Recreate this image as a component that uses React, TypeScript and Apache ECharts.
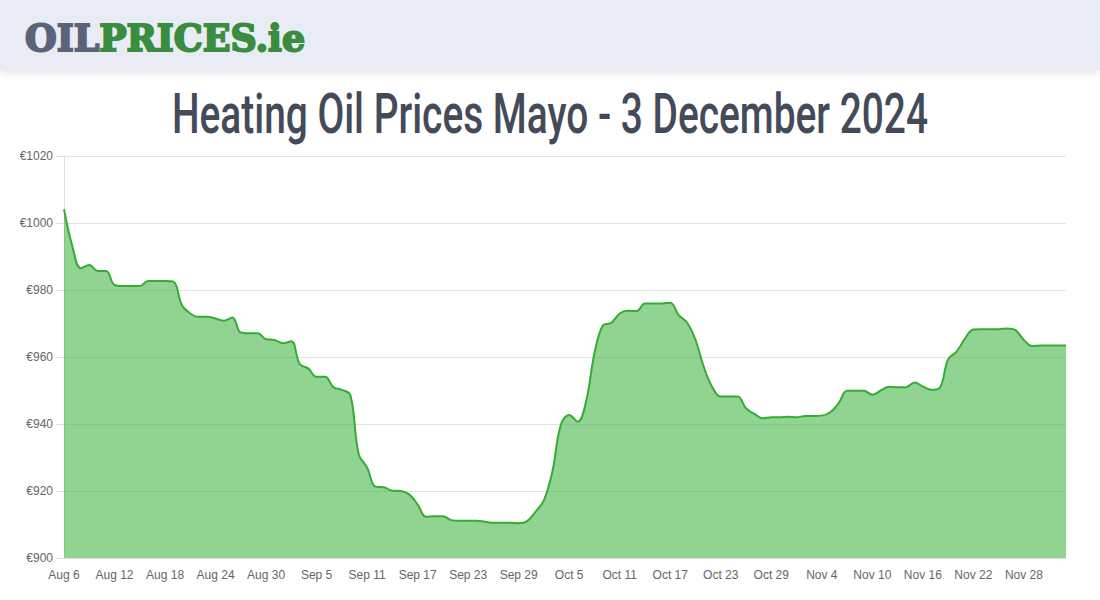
import React, { useEffect, useRef } from "react";
import * as echarts from "echarts";

const dates: string[] = [
  "Aug 6","Aug 7","Aug 8","Aug 9","Aug 10","Aug 11","Aug 12","Aug 13","Aug 14","Aug 15","Aug 16","Aug 17","Aug 18","Aug 19","Aug 20","Aug 21","Aug 22","Aug 23","Aug 24","Aug 25","Aug 26","Aug 27","Aug 28","Aug 29","Aug 30","Aug 31",
  "Sep 1","Sep 2","Sep 3","Sep 4","Sep 5","Sep 6","Sep 7","Sep 8","Sep 9","Sep 10","Sep 11","Sep 12","Sep 13","Sep 14","Sep 15","Sep 16","Sep 17","Sep 18","Sep 19","Sep 20","Sep 21","Sep 22","Sep 23","Sep 24","Sep 25","Sep 26","Sep 27","Sep 28","Sep 29","Sep 30",
  "Oct 1","Oct 2","Oct 3","Oct 4","Oct 5","Oct 6","Oct 7","Oct 8","Oct 9","Oct 10","Oct 11","Oct 12","Oct 13","Oct 14","Oct 15","Oct 16","Oct 17","Oct 18","Oct 19","Oct 20","Oct 21","Oct 22","Oct 23","Oct 24","Oct 25","Oct 26","Oct 27","Oct 28","Oct 29","Oct 30","Oct 31",
  "Nov 1","Nov 2","Nov 3","Nov 4","Nov 5","Nov 6","Nov 7","Nov 8","Nov 9","Nov 10","Nov 11","Nov 12","Nov 13","Nov 14","Nov 15","Nov 16","Nov 17","Nov 18","Nov 19","Nov 20","Nov 21","Nov 22","Nov 23","Nov 24","Nov 25","Nov 26","Nov 27","Nov 28","Nov 29","Nov 30",
  "Dec 1","Dec 2","Dec 3",
];

const prices: number[] = [
  1004.1, 993, 986.5, 987.5, 985.7, 985.7, 981.5, 981.2, 981.2, 981.2,
  982.7, 982.7, 982.7, 982.5, 975.5, 973, 972, 972, 971.5, 970.8,
  971.8, 967.3, 967.1, 967.1, 965.3, 965.1, 964.1, 964.7, 957.9, 956.6,
  954.1, 954.1, 951, 950.2, 948.7, 931, 927, 921.3, 921.1, 920.1,
  920, 919, 916, 912.3, 912.5, 912.5, 911.3, 911.1, 911.1, 911.1,
  910.8, 910.5, 910.5, 910.5, 910.4, 911, 913.8, 917.3, 925.8, 939.7,
  942.7, 940.7, 946.7, 961.1, 969.4, 970.2, 973, 973.8, 973.7, 976,
  976, 976, 976.2, 972.5, 970.3, 965.1, 956.9, 951, 948.2, 948.2,
  948.2, 944.7, 943, 941.7, 942, 942, 942.2, 942, 942.4, 942.4,
  942.5, 943.5, 946.2, 949.9, 949.9, 949.9, 948.7, 950, 951.1, 951,
  951, 952.4, 951.2, 950.2, 950.8, 959.3, 961.6, 965.5, 968.2, 968.3,
  968.3, 968.3, 968.5, 968, 965.1, 963.3, 963.4, 963.4, 963.4, 963.4,
];

const titleText = "Heating Oil Prices Mayo - 3 December 2024";
const logoGrey = "OIL";
const logoGreen = "PRICES.ie";

function measure(text: string, font: string): number {
  const c = document.createElement("canvas").getContext("2d");
  if (!c) return 1;
  c.font = font;
  return c.measureText(text).width || 1;
}

export default function App() {
  const ref = useRef<HTMLDivElement>(null);

  useEffect(() => {
    document.body.style.margin = "0";
    if (!ref.current) return;
    const chart = echarts.init(ref.current, undefined, { renderer: "svg" });

    const titleFont = "500 56px Roboto";
    const titleScale = 756 / measure(titleText, titleFont);
    const logoFont = "bold 37px 'DejaVu Serif'";
    const logoScale = 280 / measure(logoGrey + logoGreen, logoFont);

    chart.setOption({
      animation: false,
      backgroundColor: "#ffffff",
      grid: { left: 64, right: 34, top: 156, bottom: 42 },
      graphic: [
        {
          type: "rect",
          shape: { x: 0, y: 0, width: 1100, height: 70 },
          style: {
            fill: "#e9ecf4",
            shadowBlur: 8,
            shadowOffsetY: 2,
            shadowColor: "rgba(0,0,0,0.12)",
          },
          z: 10,
        },
        {
          type: "text",
          x: 25,
          y: 38,
          scaleX: logoScale,
          z: 11,
          style: {
            text: "{a|" + logoGrey + "}{b|" + logoGreen + "}",
            align: "left",
            verticalAlign: "middle",
            font: logoFont,
            rich: {
              a: {
                fill: "#5a6378",
                stroke: "#5a6378",
                lineWidth: 2,
                fontFamily: "DejaVu Serif",
                fontWeight: "bold",
                fontSize: 37,
              },
              b: {
                fill: "#3a8d3e",
                stroke: "#3a8d3e",
                lineWidth: 2,
                fontFamily: "DejaVu Serif",
                fontWeight: "bold",
                fontSize: 37,
              },
            },
          },
        },
        {
          type: "text",
          x: 550,
          y: 114,
          scaleX: titleScale,
          z: 11,
          style: {
            text: titleText,
            align: "center",
            verticalAlign: "middle",
            font: titleFont,
            fill: "#434a5a",
          },
        },
      ],
      xAxis: {
        type: "category",
        data: dates,
        boundaryGap: false,
        axisLine: { show: true, lineStyle: { color: "#e0e0e0" } },
        axisTick: { show: false },
        splitLine: { show: false },
        axisLabel: {
          interval: 5,
          color: "#666666",
          fontSize: 12,
          fontFamily: "'Liberation Sans', Arial, sans-serif",
          margin: 11,
        },
      },
      yAxis: {
        type: "value",
        min: 900,
        max: 1020,
        interval: 20,
        axisLine: { show: true, lineStyle: { color: "#e0e0e0" } },
        axisTick: { show: true, length: 8, lineStyle: { color: "#e0e0e0" } },
        splitLine: { show: true, lineStyle: { color: "#e3e3e3" } },
        axisLabel: {
          formatter: (v: number) => "€" + v,
          color: "#666666",
          fontSize: 12,
          fontFamily: "'Liberation Sans', Arial, sans-serif",
          margin: 11,
        },
      },
      series: [
        {
          type: "line",
          data: prices,
          smooth: 0.4,
          symbol: "none",
          lineStyle: { color: "#36ab36", width: 2 },
          areaStyle: { color: "rgba(40,170,40,0.51)", opacity: 1, origin: "start" },
        },
      ],
    });

    return () => chart.dispose();
  }, []);

  return <div ref={ref} style={{ width: 1100, height: 600 }} />;
}
